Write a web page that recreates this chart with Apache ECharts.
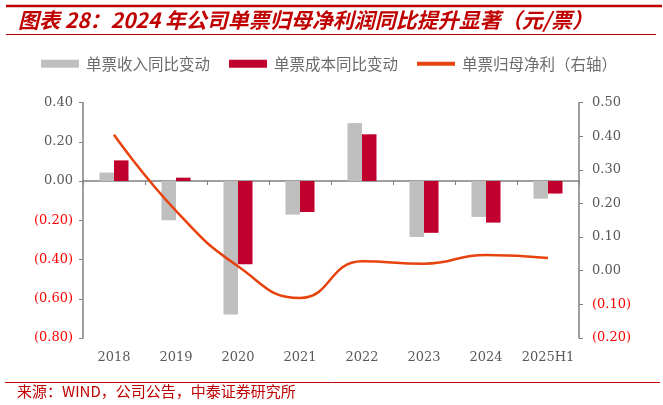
<!DOCTYPE html>
<html>
<head>
<meta charset="utf-8">
<script src="https://cdn.jsdelivr.net/npm/echarts@6/dist/echarts.min.js"></script>
<style>
  html, body { margin: 0; padding: 0; background: #fff; }
  #chart { width: 663px; height: 405px; }
</style>
</head>
<body>
<div id="chart"></div>
<script>
var categories = ['2018', '2019', '2020', '2021', '2022', '2023', '2024', '2025H1'];
var revenueChange = [0.043, -0.200, -0.680, -0.171, 0.295, -0.285, -0.183, -0.090];
var costChange = [0.105, 0.017, -0.424, -0.158, 0.238, -0.264, -0.212, -0.064];
var netProfit = [0.404, 0.178, 0.013, -0.081, 0.028, 0.021, 0.047, 0.038];
var seriesNames = ['单票收入同比变动', '单票成本同比变动', '单票归母净利（右轴）'];

var titleText = '图表 28：2024 年公司单票归母净利润同比提升显著（元/票）';
var sourceText = '来源：WIND，公司公告，中泰证券研究所';

var labelFont = 'DejaVu Serif';
var cjkFont = 'Noto Sans CJK SC';

// negative numbers in brackets and red, like the Excel format
function fmt(v) {
  if (v < 0) return '{n|(' + Math.abs(v).toFixed(2) + ')}';
  return '{p|' + v.toFixed(2) + '}';
}
var richLabels = {
  p: { color: '#595959', fontFamily: labelFont, fontSize: 13 },
  n: { color: '#FF0000', fontFamily: labelFont, fontSize: 13 }
};

var dom = document.getElementById('chart');
var myChart = echarts.init(dom, null, { renderer: 'canvas' });

option = {
  animation: false,
  backgroundColor: '#fff',
  grid: { left: 83, right: 84, top: 102.5, bottom: 67, containLabel: false },
  legend: {
    left: 41,
    top: 56,
    padding: 0,
    itemWidth: 38,
    itemHeight: 8,
    itemGap: 19,
    textStyle: { color: '#6b6b6b', fontFamily: cjkFont, fontSize: 15.5, padding: [0, 0, 0, 2] },
    data: [
      { name: seriesNames[0], icon: 'rect' },
      { name: seriesNames[1], icon: 'rect' },
      { name: seriesNames[2], icon: 'path://M0,0L38,0L38,4L0,4Z' }
    ]
  },
  xAxis: [
    {
      type: 'category',
      data: categories,
      position: 'bottom',
      axisLine: { show: false, onZero: false },
      axisTick: { show: false },
      axisLabel: { interval: 0, color: '#595959', fontFamily: labelFont, fontSize: 13, margin: 13 }
    },
    {
      type: 'category',
      data: categories,
      position: 'top',
      axisLine: { show: true, onZero: true, onZeroAxisIndex: 0, lineStyle: { color: '#808080', width: 1.5 } },
      axisTick: { show: true, interval: 0, inside: true, length: 4, lineStyle: { color: '#808080' } },
      axisLabel: { show: false }
    }
  ],
  yAxis: [
    {
      type: 'value',
      position: 'left',
      min: -0.8,
      max: 0.4,
      interval: 0.2,
      splitLine: { show: false },
      axisLine: { show: true, lineStyle: { color: '#808080', width: 1.5 } },
      axisTick: { show: true, length: 4, lineStyle: { color: '#808080' } },
      axisLabel: { formatter: fmt, rich: richLabels, margin: 10 }
    },
    {
      type: 'value',
      position: 'right',
      min: -0.2,
      max: 0.5,
      interval: 0.1,
      splitLine: { show: false },
      axisLine: { show: true, lineStyle: { color: '#808080', width: 1.5 } },
      axisTick: { show: true, length: 4, lineStyle: { color: '#808080' } },
      axisLabel: { formatter: fmt, rich: richLabels, margin: 13 }
    }
  ],
  series: [
    {
      name: seriesNames[0],
      type: 'bar',
      data: revenueChange,
      xAxisIndex: 0,
      yAxisIndex: 0,
      barWidth: 14.5,
      barGap: '0%',
      itemStyle: { color: '#BFBFBF' }
    },
    {
      name: seriesNames[1],
      type: 'bar',
      data: costChange,
      xAxisIndex: 0,
      yAxisIndex: 0,
      barWidth: 14.5,
      barGap: '0%',
      itemStyle: { color: '#C0002D' }
    },
    {
      name: seriesNames[2],
      type: 'line',
      data: netProfit,
      xAxisIndex: 0,
      yAxisIndex: 1,
      smooth: 0.5,
      symbol: 'none',
      lineStyle: { color: '#E8420E', width: 2.5 },
      itemStyle: { color: '#E8420E' },
      z: 5
    }
  ],
  graphic: [
    { type: 'line', shape: { x1: 6, y1: 6, x2: 662, y2: 6 }, style: { stroke: '#C00000', lineWidth: 2.5 } },
    {
      type: 'text', left: 18, top: 10,
      style: { text: titleText, fill: '#C00000', font: 'italic bold 21px "Noto Sans CJK SC"' }
    },
    { type: 'line', shape: { x1: 6, y1: 34.5, x2: 656, y2: 34.5 }, style: { stroke: '#C00000', lineWidth: 1 } },
    { type: 'line', shape: { x1: 5, y1: 382.5, x2: 660, y2: 382.5 }, style: { stroke: '#C00000', lineWidth: 1 } },
    {
      type: 'text', left: 17, top: 384,
      style: { text: sourceText, fill: '#C00000', font: '15px "Noto Sans CJK SC"' }
    }
  ]
};

if (option && typeof option === 'object') {
  myChart.setOption(option, true);
}
</script>
</body>
</html>
